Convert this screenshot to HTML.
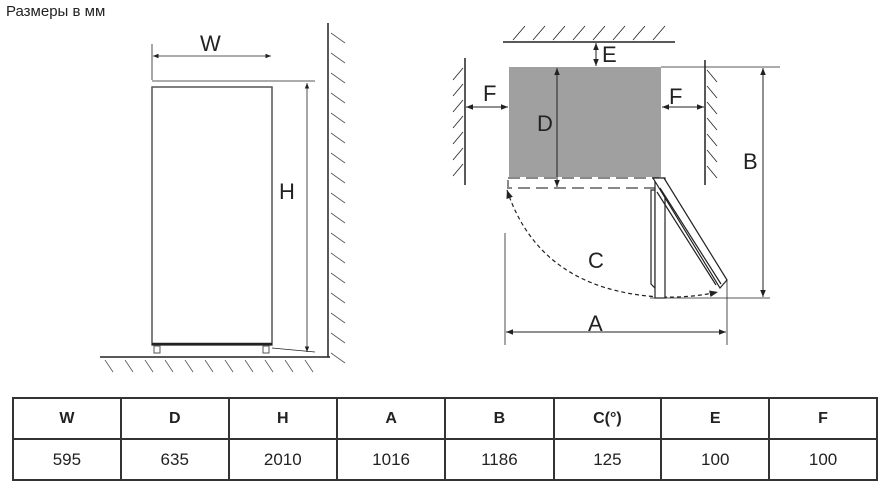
<!DOCTYPE html>
<html><head><meta charset="utf-8"><style>
body{margin:0;background:#fff;width:890px;height:485px;overflow:hidden;font-family:"Liberation Sans",sans-serif}
table{position:absolute;left:12px;top:397px;border-collapse:collapse;width:866px}
td{border:2px solid #333;text-align:center;font-size:17px;width:108px;color:#222}
tr.h td{height:37px;font-weight:bold;font-size:16px}
tr.d td{height:37px}
</style></head><body>
<div style="position:absolute;left:6px;top:3px;font-size:15px;color:#222">Размеры в мм</div>
<svg width="890" height="395" style="position:absolute;left:0;top:0" font-family="Liberation Sans" fill="none" stroke="#222">
<defs><marker id="a" viewBox="0 0 10 10" refX="10" refY="5" markerWidth="7" markerHeight="7" orient="auto-start-reverse"><path d="M0,1L10,5L0,9z" fill="#222" stroke="none"/></marker></defs>
<!-- left -->
<rect x="152" y="87" width="120" height="258" stroke-width="1.5" stroke="#555"/>
<line x1="152" y1="344" x2="272" y2="344" stroke-width="2.5"/>
<rect x="154" y="346" width="6" height="7" stroke="#555"/><rect x="263" y="346" width="6" height="7" stroke="#555"/>
<line x1="100" y1="357" x2="330" y2="357" stroke-width="1.5"/>
<line x1="328" y1="23" x2="328" y2="357" stroke-width="1.5"/>
<g stroke-width="0.8" stroke="#555">
<path d="M331,33l14,10M331,53l14,10M331,73l14,10M331,93l14,10M331,113l14,10M331,133l14,10M331,153l14,10M331,173l14,10M331,193l14,10M331,213l14,10M331,233l14,10M331,253l14,10M331,273l14,10M331,293l14,10M331,313l14,10M331,333l14,10M331,353l14,10"/>
<path d="M105,360l8,12M125,360l8,12M145,360l8,12M165,360l8,12M185,360l8,12M205,360l8,12M225,360l8,12M245,360l8,12M265,360l8,12M285,360l8,12M305,360l8,12"/>
</g>
<line x1="152" y1="44" x2="152" y2="80" stroke-width="0.8"/>
<line x1="152" y1="81" x2="315" y2="81" stroke-width="0.8"/>
<line x1="272" y1="348" x2="315" y2="352" stroke-width="0.8"/>
<line x1="153" y1="56" x2="271" y2="56" stroke-width="0.8" marker-start="url(#a)" marker-end="url(#a)"/>
<line x1="307" y1="83" x2="307" y2="352" stroke-width="0.8" marker-start="url(#a)" marker-end="url(#a)"/>
<g fill="#222" stroke="none" font-size="22"><text x="200" y="51">W</text><text x="279" y="199">H</text></g>
<!-- right -->
<rect x="509" y="67" width="152" height="110" fill="#a0a0a0" stroke="none"/>
<path d="M508,178H658V188H508z" stroke="#888" stroke-dasharray="12,6" stroke-width="2"/>
<line x1="503" y1="42" x2="675" y2="42" stroke-width="1.5"/>
<path d="M513,40l12,-14M533,40l12,-14M553,40l12,-14M573,40l12,-14M593,40l12,-14M613,40l12,-14M633,40l12,-14M653,40l12,-14" stroke-width="0.8"/>
<line x1="465" y1="58" x2="465" y2="185" stroke-width="1.5"/>
<path d="M463,68l-10,12M463,84l-10,12M463,100l-10,12M463,116l-10,12M463,132l-10,12M463,148l-10,12M463,164l-10,12" stroke-width="0.8"/>
<line x1="705" y1="60" x2="705" y2="185" stroke-width="1.5"/>
<path d="M707,70l10,12M707,86l10,12M707,102l10,12M707,118l10,12M707,134l10,12M707,150l10,12M707,166l10,12" stroke-width="0.8"/>
<line x1="596" y1="43" x2="596" y2="66" stroke-width="1" marker-start="url(#a)" marker-end="url(#a)"/>
<line x1="557" y1="68" x2="557" y2="187" stroke-width="1" marker-start="url(#a)" marker-end="url(#a)"/>
<line x1="466" y1="107" x2="508" y2="107" stroke-width="1" marker-start="url(#a)" marker-end="url(#a)"/>
<line x1="662" y1="107" x2="704" y2="107" stroke-width="1" marker-start="url(#a)" marker-end="url(#a)"/>
<line x1="661" y1="67" x2="780" y2="67" stroke-width="0.8"/>
<line x1="650" y1="298" x2="770" y2="298" stroke-width="0.8"/>
<line x1="763" y1="68" x2="763" y2="297" stroke-width="1" marker-start="url(#a)" marker-end="url(#a)"/>
<line x1="505" y1="233" x2="505" y2="345" stroke-width="0.8"/>
<line x1="727" y1="280" x2="727" y2="345" stroke-width="0.8"/>
<line x1="506" y1="332" x2="726" y2="332" stroke-width="1" marker-start="url(#a)" marker-end="url(#a)"/>
<path d="M507,190Q540,290 660,297Q690,298 718,292" stroke-dasharray="4,3" stroke-width="1.2" marker-start="url(#a)" marker-end="url(#a)"/>
<g stroke-width="1.2" fill="#fff">
<path d="M651,190L655,190L655,288L651,284z"/>
<rect x="655" y="178" width="10" height="120"/>
<path d="M653,178L664,178L727,280L720,288z"/>
<path d="M657,192L716,285M660,188L721,284"/>
</g>
<g fill="#222" stroke="none" font-size="22"><text x="602" y="62">E</text><text x="483" y="101">F</text><text x="669" y="104">F</text><text x="537" y="131">D</text><text x="743" y="169">B</text><text x="588" y="268">C</text><text x="588" y="331">A</text></g>
</svg>
<table>
<tr class="h"><td>W</td><td>D</td><td>H</td><td>A</td><td>B</td><td>C(°)</td><td>E</td><td>F</td></tr>
<tr class="d"><td>595</td><td>635</td><td>2010</td><td>1016</td><td>1186</td><td>125</td><td>100</td><td>100</td></tr>
</table>
</body></html>
